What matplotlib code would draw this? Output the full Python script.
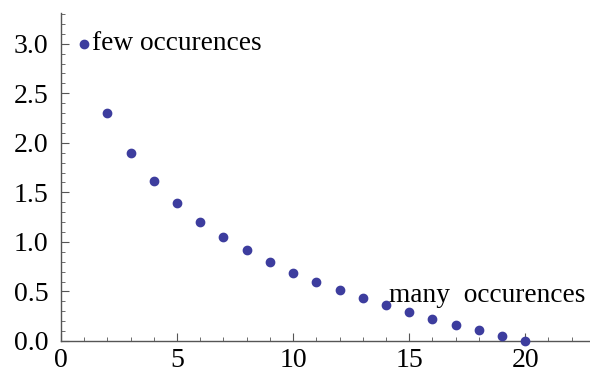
import matplotlib.pyplot as plt
from matplotlib.ticker import MultipleLocator

# rank and value
ranks = list(range(1, 21))
values = [3.00, 2.30, 1.90, 1.61, 1.39, 1.20, 1.05, 0.92, 0.80, 0.69,
          0.60, 0.51, 0.43, 0.36, 0.29, 0.22, 0.16, 0.11, 0.05, 0.00]

label_few = "few occurences"
label_many = "many  occurences"

plt.rcParams['font.family'] = ['Liberation Serif', 'DejaVu Serif']

fig = plt.figure(figsize=(5.9, 3.78), dpi=100)
ax = fig.add_axes([61 / 590, 37 / 378, 528 / 590, 328 / 378])

ax.plot(ranks, values, 'o', color='#3d3d9e', markersize=6, clip_on=False, zorder=3)

ax.text(1.35, 3.0, label_few, fontsize=19.7, va='center', ha='left')
ax.text(14.15, 0.46, label_many, fontsize=19.7, va='center', ha='left')

ax.set_xlim(0, 22.75)
ax.set_ylim(0, 3.31)
ax.xaxis.set_major_locator(MultipleLocator(5))
ax.xaxis.set_minor_locator(MultipleLocator(1))
ax.yaxis.set_major_locator(MultipleLocator(0.5))
ax.yaxis.set_minor_locator(MultipleLocator(0.1))
ax.yaxis.set_major_formatter(plt.FuncFormatter(lambda v, p: f"{v:.1f}"))

for s in ['top', 'right']:
    ax.spines[s].set_visible(False)
for s in ['left', 'bottom']:
    ax.spines[s].set_color('#555555')
    ax.spines[s].set_linewidth(1.0)

ax.tick_params(which='major', direction='in', length=6, width=0.8, color='#555555',
               labelsize=20)
ax.tick_params(axis='y', which='major', pad=9)
ax.tick_params(axis='x', which='major', pad=5)
ax.tick_params(which='minor', direction='in', length=3, width=0.6, color='#555555')

fig.savefig('out.png', dpi=100)
